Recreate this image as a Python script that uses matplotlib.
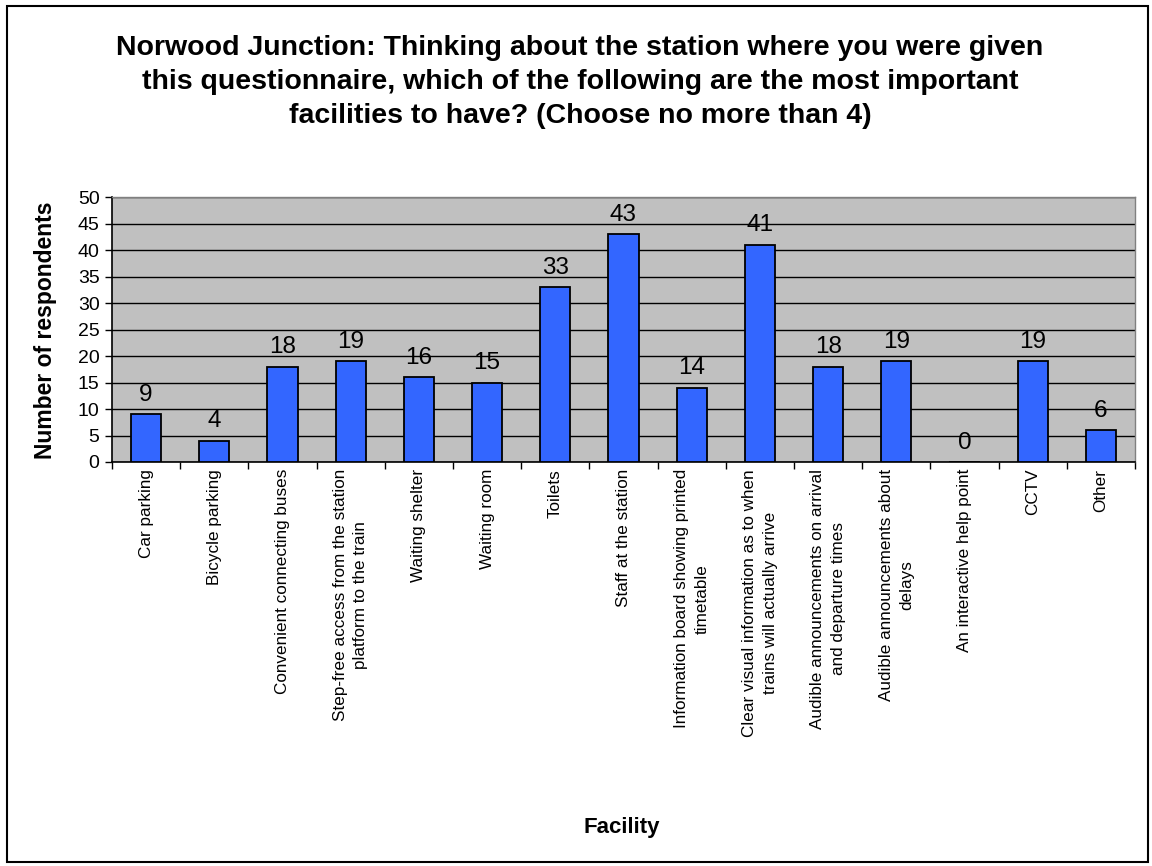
import matplotlib
matplotlib.use("Agg")
import matplotlib.pyplot as plt
from matplotlib.patches import Rectangle

plt.rcParams['font.family'] = ['Liberation Sans', 'DejaVu Sans']

categories = [
    "Car parking",
    "Bicycle parking",
    "Convenient connecting buses",
    "Step-free access from the station\nplatform to the train",
    "Waiting shelter",
    "Waiting room",
    "Toilets",
    "Staff at the station",
    "Information board showing printed\ntimetable",
    "Clear visual information as to when\ntrains will actually arrive",
    "Audible announcements on arrival\nand departure times",
    "Audible announcements about\ndelays",
    "An interactive help point",
    "CCTV",
    "Other",
]
values = [9, 4, 18, 19, 16, 15, 33, 43, 14, 41, 18, 19, 0, 19, 6]
yticks = list(range(0, 51, 5))

W, H = 1152, 866
fig = plt.figure(figsize=(W / 100, H / 100), dpi=100)
fig.patches.append(Rectangle((7 / W, 1 - 862 / H), (1148 - 7) / W, (862 - 6) / H,
                             transform=fig.transFigure, fill=False,
                             edgecolor='black', linewidth=1.5))

ax = fig.add_axes([112 / W, 1 - 462 / H, (1135 - 112) / W, (462 - 197) / H])
ax.set_facecolor('#C0C0C0')
x = list(range(len(values)))
ax.bar(x, values, width=0.44, color='#3366FF', edgecolor='black', linewidth=1.3, zorder=3)
for xi, v in zip(x, values):
    ax.text(xi, v + 1.6, str(v), ha='center', va='bottom', fontsize=17.5, zorder=4)

ax.set_xlim(-0.5, len(values) - 0.5)
ax.set_ylim(0, 50)
ax.set_yticks(yticks)
ax.set_yticklabels([str(t) for t in yticks], fontsize=14)
ax.yaxis.grid(True, color='black', linewidth=1, zorder=0)
ax.set_axisbelow(True)

ax.set_xticks([i + 0.5 for i in range(-1, len(values))])
ax.set_xticklabels([])
ax.set_xticks(x, minor=True)
ax.set_xticklabels(categories, minor=True, rotation=90, fontsize=12.3, va='top',
                   ha='center', linespacing=1.45)
ax.tick_params(axis='x', which='minor', length=0, pad=5)
ax.tick_params(axis='x', which='major', length=5, width=1, direction='out')
ax.tick_params(axis='y', length=5, width=1, direction='out', pad=4)

for s in ['top', 'right']:
    ax.spines[s].set_color('#808080')
    ax.spines[s].set_linewidth(1)
for s in ['left', 'bottom']:
    ax.spines[s].set_color('black')
    ax.spines[s].set_linewidth(1.2)

fig.text(46 / W, 1 - 330 / H, "Number of respondents", rotation=90, ha='center',
         va='center', fontsize=16.5, fontweight='bold')
fig.text(622 / W, 1 - 828 / H, "Facility", ha='center', va='center',
         fontsize=16, fontweight='bold')
fig.text(580 / W, 1 - 82 / H,
         "Norwood Junction: Thinking about the station where you were given\n"
         "this questionnaire, which of the following are the most important\n"
         "facilities to have? (Choose no more than 4)",
         ha='center', va='center', fontsize=20.5, fontweight='bold', linespacing=1.42)

fig.savefig("out.png", dpi=100)
